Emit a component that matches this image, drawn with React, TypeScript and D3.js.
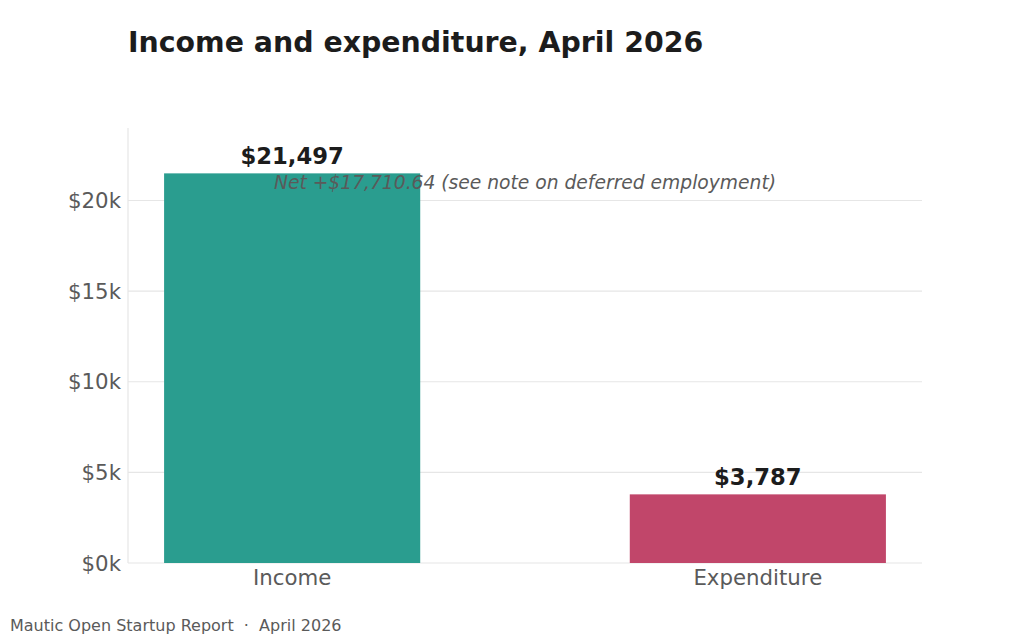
import React from "react";
import * as d3 from "d3";

const categories = ["Income", "Expenditure"];
const values = [21497, 3787];
const colors = ["#2a9d8f", "#c1466a"];
const yTicks = [0, 5000, 10000, 15000, 20000];
const title = "Income and expenditure, April 2026";
const note = "Net +$17,710.64 (see note on deferred employment)";
const footer = "Mautic Open Startup Report  ·  April 2026";

export default function App() {
  const W = 1024, H = 640;
  const left = 128, right = 922, top = 128, bottom = 563;
  const font = "'DejaVu Sans', sans-serif";
  const y = d3.scaleLinear().domain([0, 24000]).range([bottom, top]);
  const x = d3.scaleLinear().domain([-0.3525, 1.3525]).range([left, right]);
  const bw = 0.55;
  const fmt = d3.format(",");
  return (
    <svg width={W} height={H} style={{ position: "absolute", left: 0, top: 0, background: "#fff" }} fontFamily={font}>
      <text x={128} y={52} fontSize={28.4} fontWeight="bold" fill="#1c1c1c">{title}</text>
      {yTicks.map((t) => (
        <g key={t}>
          <line x1={left} x2={right} y1={y(t)} y2={y(t)} stroke="#e6e6e6" strokeWidth={1.2} />
          <text x={left - 7} y={y(t)} dy="0.36em" textAnchor="end" fontSize={21.3} fill="#5a5a5a">{`$${t / 1000}k`}</text>
        </g>
      ))}
      <line x1={left} x2={left} y1={top} y2={bottom} stroke="#e6e6e6" strokeWidth={1.2} />
      {categories.map((c, i) => (
        <g key={c}>
          <rect x={x(i - bw / 2)} y={y(values[i])} width={x(i + bw / 2) - x(i - bw / 2)} height={bottom - y(values[i])} fill={colors[i]} />
          <text x={x(i)} y={y(values[i]) - 9} textAnchor="middle" fontSize={22.7} fontWeight="bold" fill="#1c1c1c">{`$${fmt(values[i])}`}</text>
          <text x={x(i)} y={585} textAnchor="middle" fontSize={21.3} fill="#5a5a5a">{c}</text>
        </g>
      ))}
      <text x={x(0.5)} y={189} textAnchor="middle" fontSize={18.7} fontStyle="italic" fill="#5a5a5a">{note}</text>
      <text x={10} y={631} fontSize={16} fill="#5a5a5a" style={{ whiteSpace: "pre" }}>{footer}</text>
    </svg>
  );
}
